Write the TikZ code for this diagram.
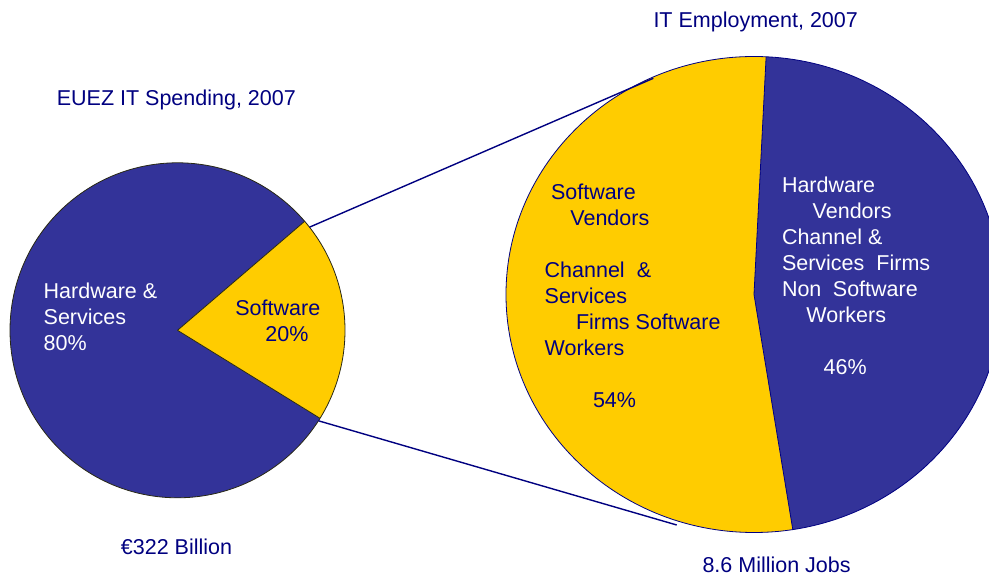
\documentclass[tikz,border=0pt]{standalone}
\usepackage{fontspec}
\setmainfont{Liberation Sans}
\definecolor{pieblue}{RGB}{51,51,153}
\definecolor{pieyellow}{RGB}{255,204,0}
\definecolor{navy}{RGB}{0,0,128}
\definecolor{rim}{RGB}{40,40,20}

\begin{document}
\begin{tikzpicture}[x=1pt,y=1pt,
  lbl/.style={inner sep=0pt,anchor=base west,align=left,font=\fontsize{21.5}{26}\selectfont},
  dark/.style={lbl,text=navy},
  light/.style={lbl,text=white},
  zoomline/.style={draw=navy,line width=1.4pt}]
\useasboundingbox (0,0) rectangle (989,576);
% spending pie
\coordinate (S) at (177.5,245.7);
\fill[pieblue] (S) -- ++(40.6:167.5pt) arc[start angle=40.6,end angle=328.3,radius=167.5pt] -- cycle;
\fill[pieyellow] (S) -- ++(-31.7:167.5pt) arc[start angle=-31.7,end angle=40.6,radius=167.5pt] -- cycle;
\draw[rim,line width=0.8pt] (S) circle[radius=167.5pt];
\draw[rim,line width=0.8pt] (S) -- ++(40.6:167.5pt) (S) -- ++(-31.7:167.5pt);
% employment pie
\coordinate (E) at (754,281.5);
\fill[pieyellow] (E) -- ++(87.2:248pt and 238pt) arc[start angle=87.2,end angle=279,x radius=248pt,y radius=238pt] -- cycle;
\fill[pieblue] (E) -- ++(-81:248pt and 238pt) arc[start angle=-81,end angle=87.2,x radius=248pt,y radius=238pt] -- cycle;
\draw[navy,line width=0.8pt] (E) ellipse[x radius=248pt,y radius=238pt];
\draw[navy,line width=0.8pt] (E) -- ++(87.2:248pt and 238pt) (E) -- ++(-81:248pt and 238pt);
% zoom lines
\path (S) ++(38:167.5pt) coordinate (swhi);
\path (S) ++(-32.7:167.5pt) coordinate (swlo);
\coordinate (emhi) at (653.3,497.7);
\coordinate (emlo) at (676.7,51);
\draw[zoomline] (swhi) -- (emhi);
\draw[zoomline] (swlo) -- (emlo);
% labels (base = last line)
\node[dark] (euez) at (56.6,470) {EUEZ IT Spending, 2007};
\node[dark] (itemp) at (653.3,548.3) {IT Employment, 2007};
\node[dark] (bill) at (120.7,21) {€322 Billion};
\node[dark] (jobs) at (702.3,3.3) {8.6 Million Jobs};
\node[light] (hws) at (43.5,225.6) {Hardware \&\\Services\\80\%};
\node[dark] (sw) at (235.2,234) {Software\\\hspace*{30pt}20\%};
\node[dark] (swv) at (544.5,168.4) {\hspace*{6.3pt}Software\\\hspace*{25.7pt}Vendors\\ \\Channel\hspace*{12pt}\&\\Services\\\hspace*{31.3pt}Firms Software\\Workers\\ \\\hspace*{48.3pt}54\%};
\node[light] (hwv) at (781.8,201.8) {Hardware\\\hspace*{30.7pt}Vendors\\Channel \&\\Services\hspace*{12pt}Firms\\Non\hspace*{11.5pt}Software\\\hspace*{24.4pt}Workers\\ \\\hspace*{41.7pt}46\%};
\end{tikzpicture}
\end{document}
